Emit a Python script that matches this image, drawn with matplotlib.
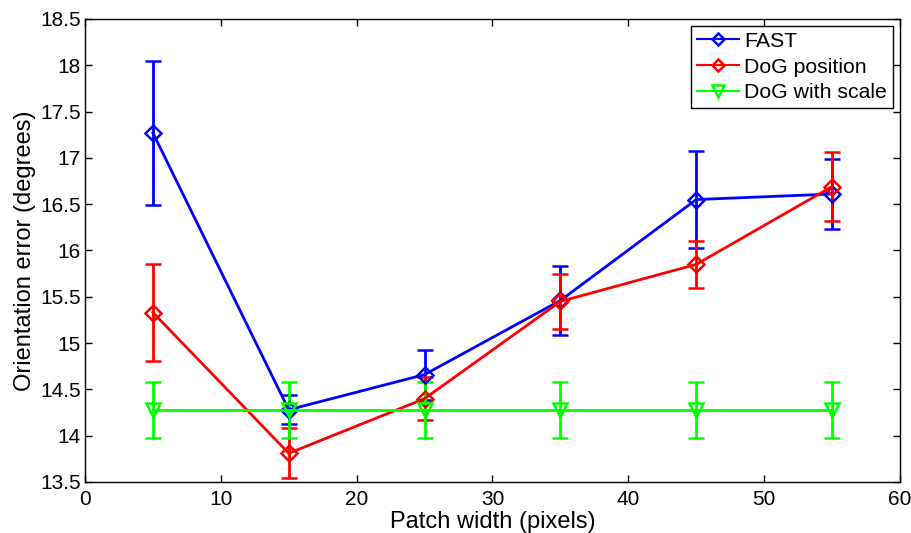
import matplotlib
matplotlib.use("Agg")
import matplotlib.pyplot as plt

plt.rcParams['font.family'] = ['Liberation Sans', 'DejaVu Sans']

x = [5, 15, 25, 35, 45, 55]
fast_y = [17.27, 14.28, 14.66, 15.46, 16.55, 16.61]
fast_err = [0.78, 0.155, 0.27, 0.37, 0.52, 0.375]
dogpos_y = [15.33, 13.81, 14.40, 15.45, 15.85, 16.69]
dogpos_err = [0.52, 0.27, 0.23, 0.30, 0.255, 0.375]
dogscale_y = [14.28, 14.28, 14.28, 14.28, 14.28, 14.28]
dogscale_err = [0.30, 0.30, 0.30, 0.30, 0.30, 0.30]

fig = plt.figure(figsize=(9.12, 5.33), dpi=100)
ax = fig.add_axes([0.0932, 0.0957, 0.8936, 0.8687])

common = dict(lw=2, capsize=6, capthick=2, mfc='none', mew=1.8)
ax.errorbar(x, fast_y, yerr=fast_err, color=(0, 0, 1), marker='D', ms=8,
            label='FAST', **common)
ax.errorbar(x, dogpos_y, yerr=dogpos_err, color=(1, 0, 0), marker='D', ms=8,
            label='DoG position', **common)
ax.errorbar(x, dogscale_y, yerr=dogscale_err, color=(0, 1, 0), marker='v', ms=10,
            label='DoG with scale', **common)

ax.set_xlim(0, 60)
ax.set_ylim(13.5, 18.5)
ax.set_xticks([0, 10, 20, 30, 40, 50, 60])
ax.set_yticks([13.5, 14, 14.5, 15, 15.5, 16, 16.5, 17, 17.5, 18, 18.5])
ax.set_yticklabels(['13.5', '14', '14.5', '15', '15.5', '16', '16.5', '17', '17.5', '18', '18.5'])
ax.tick_params(direction='in', top=True, right=True, labelsize=15, length=5, width=1)
ax.tick_params(axis='x', pad=6)
ax.tick_params(axis='y', pad=3)
for s in ax.spines.values():
    s.set_linewidth(1)
ax.set_xlabel('Patch width (pixels)', fontsize=17, labelpad=1)
ax.set_ylabel('Orientation error (degrees)', fontsize=17, labelpad=3)

handles, labels = ax.get_legend_handles_labels()
handles = [h[0] for h in handles]
leg = ax.legend(handles, labels, loc='upper right', fontsize=15.3, frameon=True,
                fancybox=False, edgecolor='black', framealpha=1, borderpad=0.25,
                labelspacing=0.32, handlelength=2.0, handletextpad=0.25,
                borderaxespad=0.35, markerscale=0.8)
leg.get_frame().set_linewidth(1)
for ln in leg.get_lines():
    ln.set_linewidth(1.5)

fig.savefig('out.png', dpi=100)
